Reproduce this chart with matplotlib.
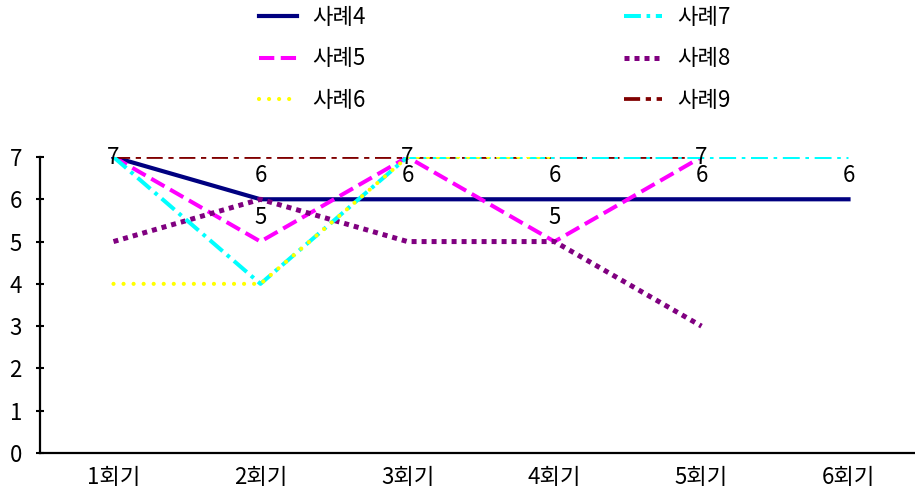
import matplotlib
matplotlib.use("Agg")
import matplotlib.pyplot as plt

plt.rcParams['font.family'] = ['Noto Sans CJK KR', 'DejaVu Sans']

categories = ["1회기", "2회기", "3회기", "4회기", "5회기", "6회기"]
case4 = [7, 6, 6, 6, 6, 6]
case5 = [7, 5, 7, 5, 7]
case6 = [4, 4, 7, 7]
case7 = [7, 4, 7, 7, 7, 7]
case8 = [5, 6, 5, 5, 3]
case9 = [7, 7, 7, 7, 7]
series_names = ["사례4", "사례5", "사례6", "사례7", "사례8", "사례9"]
y_ticks = [0, 1, 2, 3, 4, 5, 6, 7]

fig = plt.figure(figsize=(9.15, 4.96), dpi=100)
W, H = 915, 496
ax = fig.add_axes([40 / W, (H - 453) / H, 882 / W, 296 / H])

xs = list(range(1, len(categories) + 1))

styles = [
    dict(color="#000080", lw=3.0, linestyle="-", zorder=3),
    dict(color="#FF00FF", lw=2.9, linestyle=(0, (3.8, 1.6)), zorder=3),
    dict(color="#FFFF00", lw=3.0, linestyle=(0, (0.01, 2.4)),
         dash_capstyle="round", zorder=5),
    dict(color="#00FFFF", lw=2.9, linestyle=(0, (4.2, 1.4, 0.9, 1.4)), zorder=4),
    dict(color="#800080", lw=3.6, linestyle=(0, (1, 1)), zorder=3),
    dict(color="#800000", lw=2.7, linestyle=(0, (4.3, 1.5, 1.4, 1.5)), zorder=3),
]
data = [case4, case5, case6, case7, case8, case9]

lines = []
for name, vals, st in zip(series_names, data, styles):
    ln, = ax.plot(xs[:len(vals)], vals, label=name, **st)
    lines.append(ln)

# value labels above the points, kept inside the plotting area
off = 0.57
ymax = 7
for x, v in zip(xs, case4):
    ax.text(x, min(v + off, ymax), str(v), ha="center", va="center",
            fontsize=16, color="black", zorder=10)
for x, v in list(zip(xs, case5))[1:]:
    ax.text(x, min(v + off, ymax), str(v), ha="center", va="center",
            fontsize=16, color="black", zorder=10)

ax.set_xlim(0.5, 6.5)
ax.set_ylim(0, 7)
ax.set_xticks(xs)
ax.set_xticklabels(categories, fontsize=16)
ax.set_yticks(y_ticks)
ax.tick_params(axis="x", length=0, pad=9)
ax.tick_params(axis="y", direction="inout", length=6, width=1.5, labelsize=16, pad=10)
for s in ["top", "right"]:
    ax.spines[s].set_visible(False)
for s in ["left", "bottom"]:
    ax.spines[s].set_linewidth(1.6)
    ax.spines[s].set_color("black")

fig.legend(handles=lines, loc="upper left", bbox_to_anchor=(257 / W, 1 - 4 / H),
           ncol=2, frameon=False, fontsize=16, handlelength=1.7,
           handletextpad=0.7, columnspacing=11.6, labelspacing=0.82,
           borderaxespad=0, borderpad=0.1)

fig.savefig("out.png", dpi=100)
